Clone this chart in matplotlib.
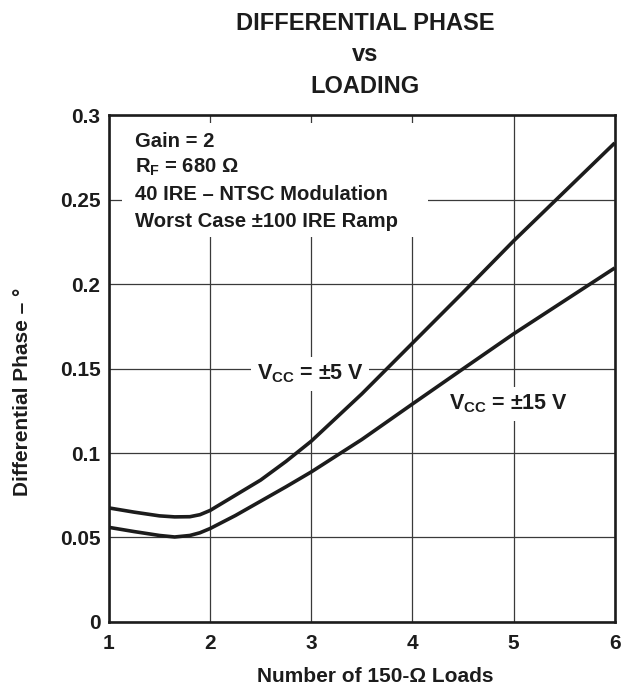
import matplotlib
matplotlib.use("Agg")
import matplotlib.pyplot as plt
from matplotlib.patches import Rectangle

plt.rcParams['font.family'] = ['Liberation Sans', 'DejaVu Sans']
plt.rcParams['font.weight'] = 'bold'
plt.rcParams['mathtext.fontset'] = 'custom'
plt.rcParams['mathtext.rm'] = 'Liberation Sans:bold'
plt.rcParams['mathtext.it'] = 'Liberation Sans:bold'
plt.rcParams['mathtext.bf'] = 'Liberation Sans:bold'

# Curve readings (loads, degrees)
loads_5v = [1.0, 1.25, 1.5, 1.65, 1.8, 1.9, 2.0, 2.25, 2.5, 2.75, 3.0, 3.5, 4.0, 4.5, 5.0, 5.5, 6.0]
phase_5v = [0.0675, 0.065, 0.0628, 0.0622, 0.0623, 0.0635, 0.066, 0.075, 0.084, 0.095, 0.107,
            0.135, 0.165, 0.195, 0.2255, 0.2545, 0.2835]

loads_15v = [1.0, 1.25, 1.5, 1.65, 1.8, 1.9, 2.0, 2.25, 2.5, 2.75, 3.0, 3.5, 4.0, 4.5, 5.0, 5.5, 6.0]
phase_15v = [0.056, 0.0535, 0.0512, 0.0503, 0.0512, 0.0528, 0.0553, 0.063, 0.0715, 0.08, 0.0888,
             0.108, 0.129, 0.1498, 0.1705, 0.19, 0.2095]

x_ticks = [1, 2, 3, 4, 5, 6]
y_ticks = [0, 0.05, 0.1, 0.15, 0.2, 0.25, 0.3]
y_labels = ['0', '0.05', '0.1', '0.15', '0.2', '0.25', '0.3']

notes = ["Gain = 2",
         r"$R_F$ = 680 Ω",
         "40 IRE – NTSC Modulation",
         "Worst Case ±100 IRE Ramp"]

INK = '#1c1c1c'

fig = plt.figure(figsize=(6.26, 6.85), dpi=100)
ax = fig.add_axes([0.174, 0.092, 0.808, 0.740])

ax.plot(loads_5v, phase_5v, color=INK, lw=2.6, zorder=4, solid_capstyle='butt')
ax.plot(loads_15v, phase_15v, color=INK, lw=2.6, zorder=4, solid_capstyle='butt')

ax.set_xlim(1, 6)
ax.set_ylim(0, 0.3)
ax.set_xticks(x_ticks)
ax.set_xticklabels([str(t) for t in x_ticks])
ax.set_yticks(y_ticks)
ax.set_yticklabels(y_labels)
ax.tick_params(length=0, labelsize=15, colors=INK)
ax.tick_params(axis='x', pad=9)
ax.tick_params(axis='y', pad=6)
ax.grid(True, color='#3a3a3a', lw=0.9)
ax.set_axisbelow(True)
for s in ax.spines.values():
    s.set_linewidth(1.9)
    s.set_color(INK)
    s.set_zorder(6)

ax.set_xlabel("Number of 150-Ω Loads", fontsize=15, color=INK, fontweight='bold')
ax.set_ylabel("Differential Phase – °", fontsize=15, color=INK, fontweight='bold')
ax.xaxis.set_label_coords(0.526, -0.089)
ax.yaxis.set_label_coords(-0.152, 0.454)

for txt, yf in zip(["DIFFERENTIAL PHASE", "vs", "LOADING"], [0.966, 0.920, 0.873]):
    fig.text(0.583, yf, txt, ha='center', va='center', fontsize=17, color=INK)

# white panel behind the condition notes
ax.add_patch(Rectangle((0.026, 0.759), 0.604, 0.225, transform=ax.transAxes,
                       fc='white', ec='none', zorder=3))
for txt, yf in zip(notes, [0.937, 0.886, 0.832, 0.779]):
    ax.text(0.051, yf, txt, transform=ax.transAxes, ha='left', va='baseline',
            fontsize=14.6, color=INK, zorder=5)

# curve labels sit above the grid but under the curves
ax.text(2.46, 0.1467, r"$V_{CC}$ = ±5 V", ha='left', va='center', fontsize=15.5, color=INK,
        zorder=3.5, bbox=dict(boxstyle='square,pad=0.25', fc='white', ec='none'))
ax.text(4.36, 0.129, r"$V_{CC}$ = ±15 V", ha='left', va='center', fontsize=15.5, color=INK,
        zorder=3.5, bbox=dict(boxstyle='square,pad=0.25', fc='white', ec='none'))

fig.savefig("out.png", dpi=100)
